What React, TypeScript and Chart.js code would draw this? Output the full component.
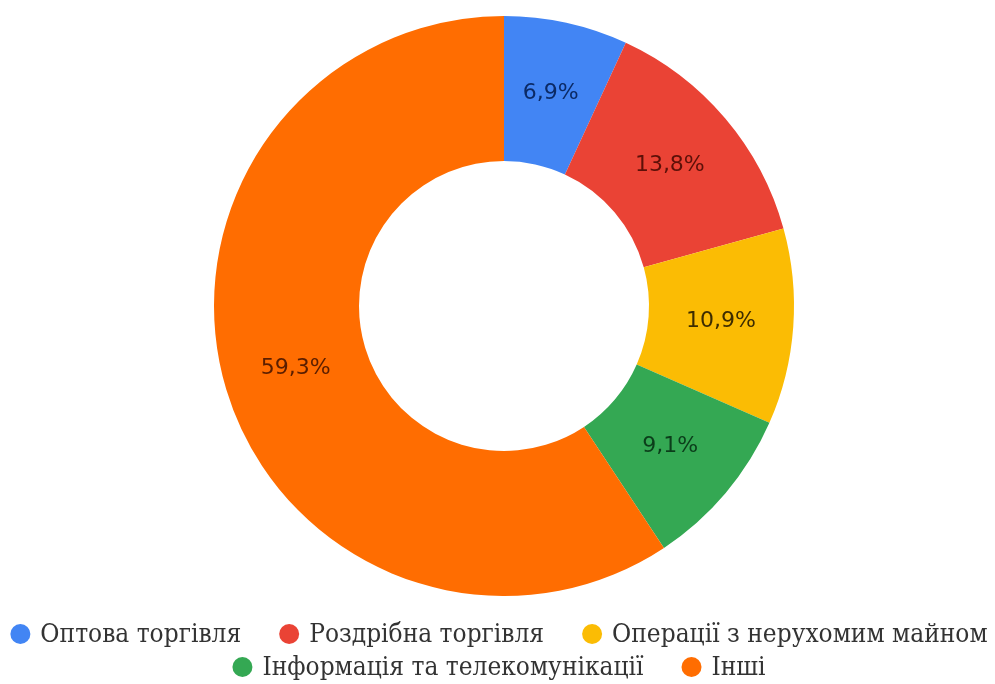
import React, { useEffect, useRef } from "react";
import { Chart, registerables } from "chart.js";

Chart.register(...registerables);

const categories = [
  "Оптова торгівля",
  "Роздрібна торгівля",
  "Операції з нерухомим майном",
  "Інформація та телекомунікації",
  "Інші",
];
const values = [6.9, 13.8, 10.9, 9.1, 59.3];
const valueLabels = ["6,9%", "13,8%", "10,9%", "9,1%", "59,3%"];
const colors = ["#4285F4", "#EA4335", "#FBBC04", "#34A853", "#FF6D01"];
const labelColors = ["#0b2a66", "#5c1008", "#3d2c00", "#0b3d1a", "#5a1e00"];
const legendRows = [[0, 1, 2], [3, 4]];

const sliceLabels = {
  id: "sliceLabels",
  afterDatasetsDraw(chart: any) {
    const ctx = chart.ctx;
    const meta = chart.getDatasetMeta(0);
    ctx.save();
    ctx.font = "22px 'DejaVu Sans'";
    ctx.textAlign = "center";
    ctx.textBaseline = "middle";
    meta.data.forEach((arc: any, i: number) => {
      const p = arc.tooltipPosition();
      ctx.fillStyle = labelColors[i];
      ctx.fillText(valueLabels[i], p.x, p.y);
    });
    ctx.restore();
  },
};

const bottomLegend = {
  id: "bottomLegend",
  afterDraw(chart: any) {
    const ctx = chart.ctx;
    const labels: string[] = chart.data.labels;
    const bg: string[] = chart.data.datasets[0].backgroundColor;
    const r = 10;
    const textGap = 10;
    const itemGap = 38;
    const rowY = [634, 667];
    const cx = 499;
    ctx.save();
    ctx.font = "26px 'DejaVu Serif Condensed', 'DejaVu Serif'";
    try { (ctx as any).fontStretch = "condensed"; } catch (e) {}
    ctx.textBaseline = "middle";
    ctx.textAlign = "left";
    legendRows.forEach((row, ri) => {
      const widths = row.map((i) => 2 * r + textGap + ctx.measureText(labels[i]).width);
      const total = widths.reduce((a, b) => a + b, 0) + itemGap * (row.length - 1);
      let x = cx - total / 2;
      row.forEach((i, k) => {
        const y = rowY[ri];
        ctx.fillStyle = bg[i];
        ctx.beginPath();
        ctx.arc(x + r, y, r, 0, Math.PI * 2);
        ctx.fill();
        ctx.fillStyle = "#333";
        ctx.fillText(labels[i], x + 2 * r + textGap, y + 1);
        x += widths[k] + itemGap;
      });
    });
    ctx.restore();
  },
};

export default function App() {
  const ref = useRef<HTMLCanvasElement | null>(null);
  useEffect(() => {
    if (!ref.current) return;
    const chart = new Chart(ref.current, {
      type: "doughnut",
      data: {
        labels: categories,
        datasets: [
          {
            data: values,
            backgroundColor: colors,
            borderWidth: 0,
          },
        ],
      },
      options: {
        animation: false,
        responsive: false,
        cutout: "50%",
        layout: { padding: { top: 16, bottom: 88, left: 13, right: 0 } },
        plugins: {
          tooltip: { enabled: false },
          legend: { display: false },
        },
      },
      plugins: [sliceLabels, bottomLegend],
    });
    return () => chart.destroy();
  }, []);
  return (
    <div style={{ position: "fixed", left: 0, top: 0, width: 995, height: 684, background: "#fff" }}>
      <canvas ref={ref} width={995} height={684} style={{ width: 995, height: 684 }} />
    </div>
  );
}
